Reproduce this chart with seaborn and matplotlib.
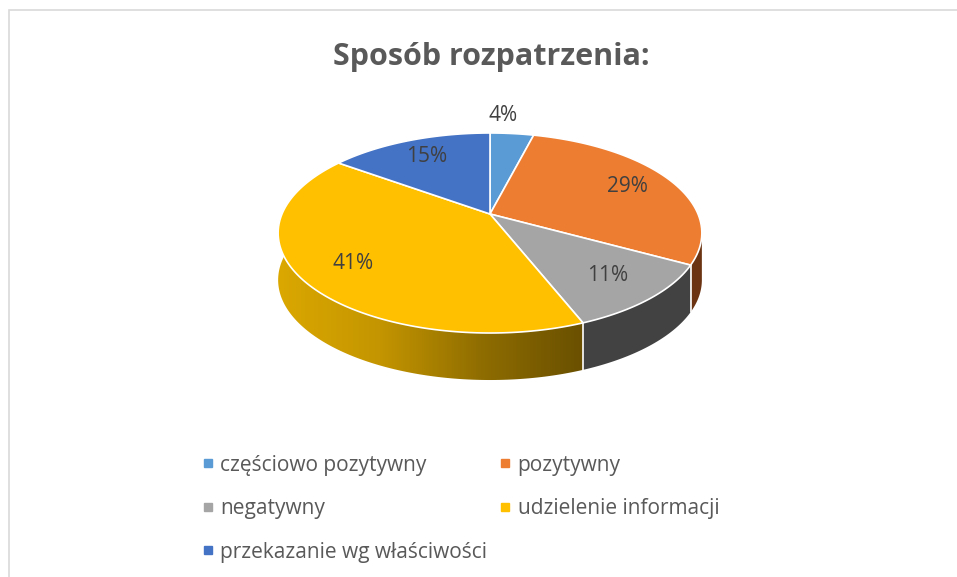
import numpy as np
import seaborn as sns
import matplotlib.pyplot as plt
from matplotlib.patches import Rectangle, Polygon
from matplotlib.lines import Line2D
from matplotlib.colors import LinearSegmentedColormap
from matplotlib.transforms import Affine2D

categories = ["częściowo pozytywny", "pozytywny", "negatywny",
              "udzielenie informacji", "przekazanie wg właściwości"]
shares = [4, 29, 11, 41, 15]
top_colors = ["#5B9BD5", "#ED7D31", "#A5A5A5", "#FFC000", "#4472C4"]
side_colors = ["#2f5f8f", "#6b3311", "#424242", "#b58a00", "#2a4a85"]

sns.set_theme(style="white")
plt.rcParams["font.family"] = ["Open Sans", "DejaVu Sans"]
text_gray = "#595959"

W, H = 957, 577
fig = plt.figure(figsize=(W / 100, H / 100), dpi=100)

# chart frame (light gray border, left and top visible)
fig.patches.append(Rectangle((9 / W, -0.1), 1.2, (H - 10) / H + 0.1,
                             transform=fig.transFigure, fill=False,
                             edgecolor="#d9d9d9", linewidth=1.2))

fig.text(491 / W, 1 - 57 / H, "Sposób rozpatrzenia:", ha="center", va="center",
         fontsize=22, fontweight="bold", color=text_gray)

# one axes over the whole figure, in pixel units (y down)
ax = fig.add_axes([0, 0, 1, 1])

# simple perspective projection of the unit pie onto the page
cx, cy, sx, sy, k = 490, 214, 208, 96.4, 0.19
depth = 47


def project(xy):
    xy = np.asarray(xy, dtype=float)
    d = 1 + k * xy[:, 1]
    return np.column_stack([cx + sx * xy[:, 0] / d, cy - sy * xy[:, 1] / d])


# angles of slice boundaries (clockwise from 12 o'clock)
cum = np.concatenate([[0], np.cumsum(shares)]) / sum(shares)
bounds = 90 - 360 * cum
edge = np.degrees(np.arcsin(k))  # silhouette angle of the projected ellipse

# side walls: front-facing part of each slice
for i, c in enumerate(side_colors):
    a1, a0 = bounds[i + 1], bounds[i]
    lo = max(a1, -180 - edge)
    hi = min(a0, -edge)
    if hi <= lo:
        continue
    t = np.radians(np.linspace(lo, hi, 200))
    top = project(np.column_stack([np.cos(t), np.sin(t)]))
    bot = top[::-1] + [0, depth]
    poly = np.vstack([top, bot])
    if i == 3:
        patch = Polygon(poly, closed=True, facecolor="none", edgecolor="none")
        ax.add_patch(patch)
        grad = np.linspace(0, 1, 256).reshape(1, -1)
        cmap = LinearSegmentedColormap.from_list(
            "side", ["#dba800", "#c49500", "#8f6d00", "#6a5000"])
        im = ax.imshow(grad, extent=[top[:, 0].min(), top[:, 0].max(), 420, 200],
                       cmap=cmap, aspect="auto", zorder=1)
        im.set_clip_path(patch)
    else:
        ax.add_patch(Polygon(poly, closed=True, facecolor=c, edgecolor="none", zorder=1))
    # white line at the front boundary of the slice
    if lo == a1:
        p = project([[np.cos(np.radians(lo)), np.sin(np.radians(lo))]])[0]
        ax.plot([p[0], p[0]], [p[1], p[1] + depth], color="white", lw=1.2, zorder=2)

wedges, texts, autotexts = ax.pie(
    shares, colors=top_colors, startangle=90, counterclock=False,
    autopct="%1.0f%%", pctdistance=0.76,
    wedgeprops=dict(edgecolor="white", linewidth=1.2),
    textprops=dict(fontsize=15, color="#404040"))

# redraw each wedge through the perspective projection
scale = Affine2D().scale(1000)
for w in wedges:
    for verts in w.get_path().to_polygons(transform=scale):
        ax.add_patch(Polygon(project(verts / 1000), closed=True,
                             facecolor=w.get_facecolor(), edgecolor="white",
                             linewidth=1.2, zorder=3))
    w.remove()

for j, t in enumerate(autotexts):
    x, y = t.get_position()
    if j == 0:
        # small slice label sits outside the pie
        x, y = x * 1.28 / 0.76 * 0.5, y * 1.28 / 0.76
    t.set_position(tuple(project([[x, y]])[0]))
    t.set_zorder(4)

ax.set_aspect("auto")
ax.set_xlim(0, W)
ax.set_ylim(H, 0)
ax.axis("off")

handles = [Line2D([], [], marker="s", linestyle="", markersize=6,
                  markerfacecolor=c, markeredgecolor=c) for c in top_colors]
order = [0, 2, 4, 1, 3]
fig.legend([handles[i] for i in order], [categories[i] for i in order],
           ncol=2, loc="upper left", bbox_to_anchor=(183 / W, 1 - 436 / H),
           frameon=False, fontsize=15, labelcolor=text_gray,
           handlelength=0.6, handletextpad=0.3, labelspacing=1.08,
           columnspacing=0.55)

fig.savefig("out.png", dpi=100, facecolor="white")
